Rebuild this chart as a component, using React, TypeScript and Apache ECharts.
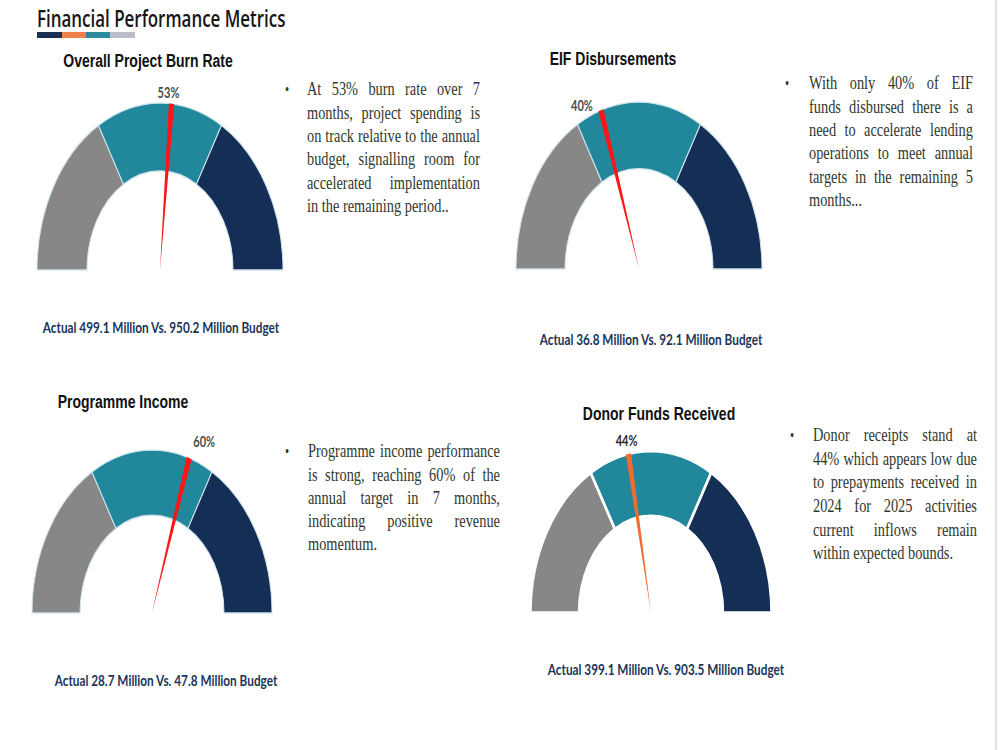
import React, { useEffect, useRef } from "react";
import * as echarts from "echarts";

// ---- data ----
const gaugeTitles = [
  "Overall Project Burn Rate",
  "EIF Disbursements",
  "Programme Income",
  "Donor Funds Received",
];
const actualMillions = [499.1, 36.8, 28.7, 399.1];
const budgetMillions = [950.2, 92.1, 47.8, 903.5];
const percentAchieved = [53, 40, 60, 44];
const bandEdges = [0, 33.33, 66.67, 100];

const commentary: string[][] = [
  [
    "At 53% burn rate over 7",
    "months, project spending is",
    "on track relative to the annual",
    "budget, signalling room for",
    "accelerated implementation",
    "in the remaining period..",
  ],
  [
    "With only 40% of EIF",
    "funds disbursed there is a",
    "need to accelerate lending",
    "operations to meet annual",
    "targets in the remaining 5",
    "months...",
  ],
  [
    "Programme income performance",
    "is strong, reaching 60% of the",
    "annual target in 7 months,",
    "indicating positive revenue",
    "momentum.",
  ],
  [
    "Donor receipts stand at",
    "44% which appears low due",
    "to prepayments received in",
    "2024 for 2025 activities",
    "current inflows remain",
    "within expected bounds.",
  ],
];

const pageTitle = "Financial Performance Metrics";

// ---- styling & layout ----
const SQUEEZE = 0.737; // narrow text rendering used throughout the page
const BAND_COLORS = ["#878787", "#21889b", "#142e56"];
const ACCENT_COLORS = ["#1b2f55", "#f07f4a", "#2e8a9a", "#b9bdc5"];
const BODY_FONT = '19.5px "Liberation Serif", "Times New Roman", serif';
const BODY_COLOR = "#30382d";

const panels = [
  {
    cx: 160, cy: 270, r: 123, r0: 73, sy: 1.357,
    needle: "#ff1515", sep: "#cfe4ec", sepW: 1,
    labelDx: -4, labelDy: 2, labelColor: "#4d4d4d",
    title: [148, 61], footer: [161, 327],
    text: { bx: 287, x0: 307, x1: 480, y0: 89, lh: 23.4 },
  },
  {
    cx: 639, cy: 269, r: 123, r0: 74, sy: 1.357,
    needle: "#ff1515", sep: "#cfe4ec", sepW: 1,
    labelDx: -16, labelDy: 8, labelColor: "#4d4d4d",
    title: [613, 59], footer: [651, 339],
    text: { bx: 787, x0: 809, x1: 973, y0: 83, lh: 23.4 },
  },
  {
    cx: 152, cy: 613, r: 120, r0: 72, sy: 1.357,
    needle: "#ff1515", sep: "#cfe4ec", sepW: 1,
    labelDx: 12, labelDy: -4, labelColor: "#4d4d4d",
    title: [123, 402], footer: [166, 680],
    text: { bx: 287, x0: 308, x1: 500, y0: 451, lh: 23.3 },
  },
  {
    cx: 651, cy: 613, r: 120.5, r0: 72, sy: 1.345,
    needle: "#f26b2c", sep: "#ffffff", sepW: 2.5,
    labelDx: 0, labelDy: 0, labelColor: "#2b2b2b",
    title: [659, 414], footer: [666, 669],
    text: { bx: 792, x0: 813, x1: 977, y0: 435, lh: 23.6 },
  },
];

const measureCtx = document.createElement("canvas").getContext("2d") as CanvasRenderingContext2D;
function textWidth(s: string, font: string) {
  measureCtx.font = font;
  return measureCtx.measureText(s).width;
}

function textStyle(text: string, font: string, fill: string, align: string, vAlign: string) {
  return {
    text,
    font,
    fill,
    align,
    verticalAlign: vAlign,
    textAlign: align,
    textVerticalAlign: vAlign,
  };
}

// justified paragraph with a bullet, drawn word by word
function paragraph(lines: string[], L: { bx: number; x0: number; x1: number; y0: number; lh: number }) {
  const innerWidth = (L.x1 - L.x0) / SQUEEZE;
  const children: any[] = [];
  const space = textWidth(" ", BODY_FONT);
  lines.forEach((line, li) => {
    const words = line.split(/\s+/);
    const widths = words.map((w) => textWidth(w, BODY_FONT));
    const total = widths.reduce((s, w) => s + w, 0);
    const last = li === lines.length - 1;
    const gap = !last && words.length > 1 ? (innerWidth - total) / (words.length - 1) : space;
    let x = 0;
    const y = L.y0 + li * L.lh;
    words.forEach((w, wi) => {
      children.push({
        type: "text",
        x,
        y,
        silent: true,
        style: textStyle(w, BODY_FONT, BODY_COLOR, "left", "middle"),
      });
      x += widths[wi] + gap;
    });
  });
  return [
    {
      type: "text",
      x: L.bx,
      y: L.y0,
      scaleX: SQUEEZE,
      silent: true,
      style: textStyle("\u2022", '16px "Liberation Serif", serif', BODY_COLOR, "center", "middle"),
    },
    { type: "group", x: L.x0, y: 0, scaleX: SQUEEZE, silent: true, children },
  ];
}

const angleOf = (v: number) => Math.PI + (v / 100) * Math.PI;

function gaugeSeries(i: number) {
  const p = panels[i];
  const data: number[][] = [];
  for (let b = 0; b < 3; b++) data.push([bandEdges[b], bandEdges[b + 1], b]);
  data.push([percentAchieved[i], percentAchieved[i], 3]);
  return {
    type: "custom",
    coordinateSystem: "none",
    silent: true,
    data,
    renderItem: (_params: any, api: any) => {
      const a = api.value(0) as number;
      const b = api.value(1) as number;
      const kind = api.value(2) as number;
      if (kind < 3) {
        return {
          type: "sector",
          x: p.cx,
          y: p.cy,
          scaleY: p.sy,
          shape: { cx: 0, cy: 0, r: p.r, r0: p.r0, startAngle: angleOf(a), endAngle: angleOf(b), clockwise: true },
          style: { fill: BAND_COLORS[kind], stroke: p.sep, lineWidth: p.sepW },
        };
      }
      const t = angleOf(a);
      const lx = p.cx + Math.cos(t) * (p.r + 10) + p.labelDx;
      const ly = p.cy + Math.sin(t) * (p.r + 10) * p.sy + p.labelDy;
      return {
        type: "group",
        children: [
          {
            type: "sector",
            x: p.cx,
            y: p.cy,
            scaleY: p.sy,
            shape: { cx: 0, cy: 0, r: p.r, r0: 0, startAngle: angleOf(a - 0.7), endAngle: angleOf(a + 0.7), clockwise: true },
            style: { fill: p.needle },
          },
          {
            type: "text",
            x: lx,
            y: ly,
            scaleX: SQUEEZE,
            style: textStyle(`${a}%`, "bold 15px Lato, sans-serif", p.labelColor, "center", "middle"),
          },
        ],
      };
    },
  };
}

function buildOption() {
  const graphic: any[] = [];
  graphic.push({
    type: "text",
    x: 37,
    y: 18,
    scaleX: SQUEEZE,
    silent: true,
    style: textStyle(pageTitle, '600 23px "Open Sans", sans-serif', "#161616", "left", "middle"),
  });
  const barX = [37, 62, 86, 110];
  const barW = [25, 24, 24, 25];
  ACCENT_COLORS.forEach((c, k) => {
    graphic.push({ type: "rect", silent: true, shape: { x: barX[k], y: 32, width: barW[k], height: 6 }, style: { fill: c } });
  });
  panels.forEach((p, i) => {
    graphic.push({
      type: "text",
      x: p.title[0],
      y: p.title[1],
      scaleX: SQUEEZE,
      silent: true,
      style: textStyle(gaugeTitles[i], 'bold 19px "Liberation Sans", Arial, sans-serif', "#111111", "center", "middle"),
    });
    graphic.push({
      type: "text",
      x: p.footer[0],
      y: p.footer[1],
      scaleX: SQUEEZE,
      silent: true,
      style: textStyle(
        `Actual ${actualMillions[i]} Million Vs. ${budgetMillions[i]} Million Budget`,
        "bold 16px Lato, sans-serif",
        "#1c3558",
        "center",
        "middle"
      ),
    });
    graphic.push(...paragraph(commentary[i], p.text));
  });
  graphic.push({ type: "rect", silent: true, shape: { x: 995, y: 0, width: 2, height: 750 }, style: { fill: "#e2e2e2" } });

  return {
    animation: false,
    backgroundColor: "#ffffff",
    series: panels.map((_, i) => gaugeSeries(i)),
    graphic,
  };
}

export default function App() {
  const ref = useRef<HTMLDivElement>(null);
  useEffect(() => {
    if (!ref.current) return;
    const chart = echarts.init(ref.current, undefined, { renderer: "svg" });
    chart.setOption(buildOption() as any);
    return () => chart.dispose();
  }, []);
  return (
    <div
      ref={ref}
      style={{ position: "fixed", left: 0, top: 0, width: 1000, height: 750, background: "#fff" }}
    />
  );
}
